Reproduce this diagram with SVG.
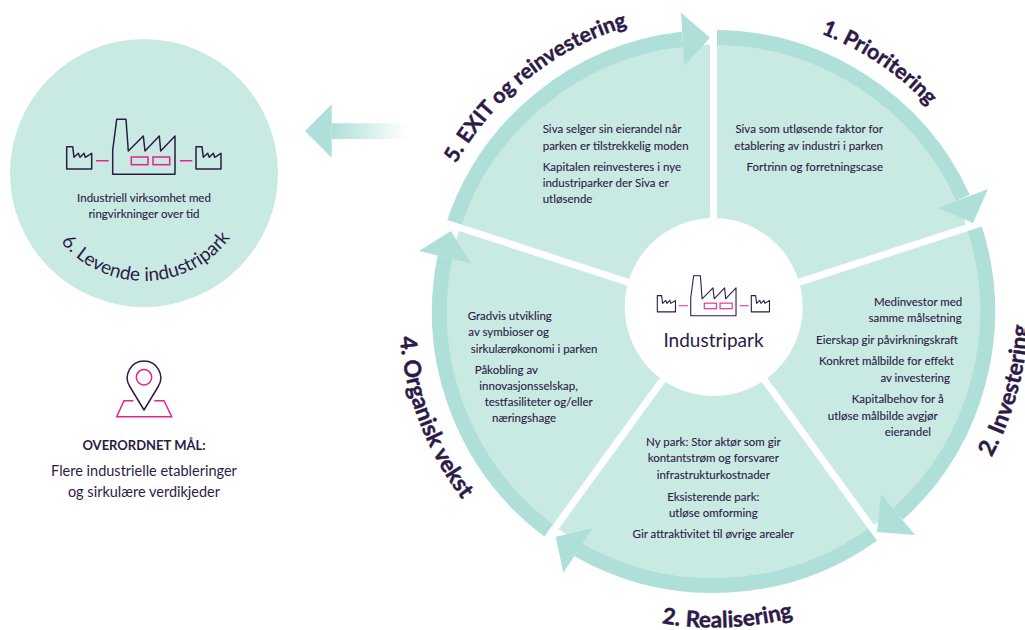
<svg xmlns="http://www.w3.org/2000/svg" xmlns:xlink="http://www.w3.org/1999/xlink" width="1025" height="630" viewBox="0 0 1025 630">
<style>
text{font-family:"Lato","Noto Sans","Liberation Sans",sans-serif;fill:#2e1a47}
.b{font-size:11.5px;stroke:#2e1a47;stroke-width:.12}
.e{text-anchor:end}
.m{text-anchor:middle}
.h{font-size:21.3px;font-weight:700;stroke:#2e1a47;stroke-width:.45}
.ring{fill:none;stroke:#aedfd8;stroke-width:15}
.head{fill:#aedfd8}
.gap{stroke:#fff;stroke-width:7;fill:none}
.ol{fill:none;stroke:#2e1a47;stroke-width:1.5;stroke-linejoin:round}
.pk{fill:none;stroke:#e6228f;stroke-width:1.5}
</style>
<defs>
<linearGradient id="fade" x1="0" x2="1" y1="0" y2="0"><stop offset="0" stop-color="#aedfd8"/><stop offset="1" stop-color="#aedfd8" stop-opacity="0"/></linearGradient>
<path id="p1" d="M821 33.5A296 296 0 0 1 1009.5 309.5"/>
<path id="p2" d="M991.6 457.5A315 315 0 0 0 986.3 152"/>
<path id="p3" d="M661.5 623.3A318 318 0 0 0 913.5 556.8"/>
<path id="p4" d="M399.7 337A315 315 0 0 0 521.9 559.5"/>
<path id="p5" d="M455.9 163.8A296 296 0 0 1 861.5 53.2"/>
<path id="p6" d="M61 242A108 108 0 0 0 239 224.5"/>
<g id="factory">
<path class="ol" d="M112.7 174.3V150L116.7 119.3H126L128.3 151L143.3 136L145 151L159.3 136L160.7 151L175 136V174.3Z"/>
<path class="ol" d="M66.7 169V146.7H72.7L74 157.3L78.3 153.3L80 157.3L84 153.3L85.3 157.3L91.7 153.3V169Z"/>
<path class="ol" d="M196 169V146.7H202L203.3 157.3L207.7 153.3L209.3 157.3L213.3 153.3L214.7 157.3L221 153.3V169Z"/>
<path class="pk" d="M96 160.7H108.7M180 160.7H192.3"/>
<rect class="pk" x="131.3" y="157" width="16.7" height="7.7"/>
<rect class="pk" x="153" y="157" width="16.7" height="7.7"/>
</g>
</defs>
<g id="connectors">
<path d="M331.7 123.3H406.7V139H331.7Z" fill="url(#fade)"/>
<path class="head" d="M305 131L331.7 104.3V157.7Z"/>
</g>
<g id="wheel">
<circle cx="713.5" cy="311.5" r="267" fill="#c9eae3"/>
<path class="ring" d="M713.5 37.5A274 274 0 0 1 963 197.9"/>
<path class="ring" d="M974.1 226.8A274 274 0 0 1 897.9 514.2"/>
<path class="ring" d="M874.6 533.2A274 274 0 0 1 578.1 549.7"/>
<path class="ring" d="M552.4 533.2A274 274 0 0 1 445 256.9"/>
<path class="ring" d="M452.9 226.8A274 274 0 0 1 682.5 39.3"/>
<path class="gap" d="M713.5 310V20M713.5 310L1000 217M713.5 310L891 554M713.5 310L536 554M713.5 310L427 217"/>
<polygon class="head" points="973,223 988,189 938,208"/>
<polygon class="head" points="877,532 881,494 915,535"/>
<polygon class="head" points="555.7,536.7 592.7,528.3 563.3,572.7"/>
<polygon class="head" points="451,231 419,251 470.7,263.3"/>
<polygon class="head" points="710,37.7 681,12.7 684.3,66"/>
</g>
<g id="hub">
<circle cx="713.7" cy="307" r="89" fill="#fff"/>
<use href="#factory" xlink:href="#factory" transform="translate(608.8 189) scale(.727)"/>
<text class="m" x="713.5" y="346.7" style="font-size:19px">Industripark</text>
</g>
<g id="step1">
<text class="h"><textPath href="#p1" xlink:href="#p1">1. Prioritering</textPath></text>
<text class="b e" x="883" y="133">Siva som utløsende faktor for</text>
<text class="b e" x="883" y="150">etablering av industri i parken</text>
<text class="b e" x="883" y="171">Fortrinn og forretningscase</text>
</g>
<g id="step2">
<text class="h" style="font-size:23px"><textPath href="#p2" xlink:href="#p2">2. Investering</textPath></text>
<text class="b e" x="962.3" y="306">Medinvestor med</text>
<text class="b e" x="961.7" y="322">samme målsetning</text>
<text class="b e" x="958" y="344">Eierskap gir påvirkningskraft</text>
<text class="b e" x="954" y="365.3">Konkret målbilde for effekt</text>
<text class="b e" x="950" y="382">av investering</text>
<text class="b e" x="943.7" y="403.3">Kapitalbehov for å</text>
<text class="b e" x="937.7" y="419.7">utløse målbilde avgjør</text>
<text class="b e" x="931" y="435.7">eierandel</text>
</g>
<g id="step3">
<text class="h" style="font-size:22.5px"><textPath href="#p3" xlink:href="#p3">2. Realisering</textPath></text>
<text class="b m" x="713.3" y="446">Ny park: Stor aktør som gir</text>
<text class="b m" x="713.3" y="462.3">kontantstrøm og forsvarer</text>
<text class="b m" x="713.3" y="478.7">infrastrukturkostnader</text>
<text class="b m" x="713.3" y="500.7">Eksisterende park:</text>
<text class="b m" x="713.3" y="516.7">utløse omforming</text>
<text class="b m" x="713.3" y="538">Gir attraktivitet til øvrige arealer</text>
</g>
<g id="step4">
<text class="h" style="font-size:23px"><textPath href="#p4" xlink:href="#p4">4. Organisk vekst</textPath></text>
<text class="b" x="467.7" y="320">Gradvis utvikling</text>
<text class="b" x="468.3" y="336.3">av symbioser og</text>
<text class="b" x="470.7" y="352.7">sirkulærøkonomi i parken</text>
<text class="b" x="474.7" y="374">Påkobling av</text>
<text class="b" x="479.3" y="390.3">innovasjonsselskap,</text>
<text class="b" x="484.7" y="406.3">testfasiliteter og/eller</text>
<text class="b" x="492" y="422.3">næringshage</text>
</g>
<g id="step5">
<text class="h"><textPath href="#p5" xlink:href="#p5">5. EXIT og reinvestering</textPath></text>
<text class="b" x="542.7" y="133">Siva selger sin eierandel når</text>
<text class="b" x="542.7" y="150">parken er tilstrekkelig moden</text>
<text class="b" x="542.7" y="171">Kapitalen reinvesteres i nye</text>
<text class="b" x="542.7" y="187">industriparker der Siva er</text>
<text class="b" x="542.7" y="203">utløsende</text>
</g>
<g id="step6">
<circle cx="144" cy="173" r="134" fill="#c9eae3"/>
<use href="#factory" xlink:href="#factory"/>
<text class="b m" x="144" y="201.7">Industriell virksomhet med</text>
<text class="b m" x="144" y="217.7">ringvirkninger over tid</text>
<text style="font-size:19px"><textPath href="#p6" xlink:href="#p6">6. Levende industripark</textPath></text>
</g>
<g id="goal">
<path class="pk" d="M133.3 400.7H124L116.7 416.7H171.7L164 400.7H154.3"/>
<path class="ol" d="M144 410L129.5 386A16.7 16.7 0 1 1 158.5 386Z"/>
<circle class="pk" cx="144" cy="377.3" r="7.7"/>
<text class="m" x="144" y="450" style="font-size:13px;font-weight:700">OVERORDNET MÅL:</text>
<text class="m" x="144" y="476" style="font-size:14.5px">Flere industrielle etableringer</text>
<text class="m" x="144" y="496.7" style="font-size:14.5px">og sirkulære verdikjeder</text>
</g>
</svg>
